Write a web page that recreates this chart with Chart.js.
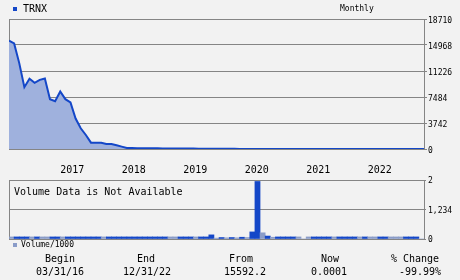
<!DOCTYPE html>
<html>
<head>
<meta charset="utf-8">
<script src="https://cdn.jsdelivr.net/npm/chart.js@4.4.0/dist/chart.umd.min.js"></script>
<style>
  body { margin: 0; width: 460px; height: 280px; background: #f2f2f2; position: relative; overflow: hidden;
         font-family: "DejaVu Sans Mono", monospace; color: #000; }
  canvas { position: absolute; left: 0; }
  .t { position: absolute; white-space: nowrap; line-height: 1; }
  .s10 { font-size: 10px; }
  .s8 { font-size: 8px; }
  .c { transform: translateX(-50%); }
  .sq { position: absolute; width: 4px; height: 4px; }
</style>
</head>
<body>
<canvas id="priceChart" width="460" height="180" style="top:0"></canvas>
<canvas id="volumeChart" width="460" height="80" style="top:170px"></canvas>

<div class="sq" style="left:13px;top:7px;background:#1447c8"></div>
<div class="t s10" style="left:23px;top:4px">TRNX</div>
<div class="t s8" style="left:340px;top:5px">Monthly</div>
<div class="t s10" style="left:14px;top:187px">Volume Data is Not Available</div>
<div class="sq" style="left:13px;top:243px;background:#8a9cc8"></div>
<div class="t s8" style="left:21px;top:241px">Volume/1000</div>

<div class="t s10 c" style="left:60px;top:254px">Begin</div>
<div class="t s10 c" style="left:146px;top:254px">End</div>
<div class="t s10 c" style="left:241px;top:254px">From</div>
<div class="t s10 c" style="left:330px;top:254px">Now</div>
<div class="t s10 c" style="left:415px;top:254px">% Change</div>
<div class="t s10 c" style="left:60px;top:267px">03/31/16</div>
<div class="t s10 c" style="left:147px;top:267px">12/31/22</div>
<div class="t s10 c" style="left:245px;top:267px">15592.2</div>
<div class="t s10 c" style="left:329px;top:267px">0.0001</div>
<div class="t s10 c" style="left:420px;top:267px">-99.99%</div>

<script>
// monthly closes, 03/2016 .. 12/2022 (index 0..81)
const priceValues = [
  15592.2, 15200, 12360, 8900, 10100, 9520, 9950, 10150, 7170, 6880,
  8270, 7170, 6690, 4380, 2980, 2020, 910, 910, 910, 720,
  720, 530, 340, 150, 130, 120, 110, 100, 95, 90,
  85, 80, 75, 70, 65, 60, 55, 50, 45, 40,
  35, 30, 25, 20, 18, 16, 14, 12, 10, 9,
  8, 7, 6, 5, 4, 3.5, 3, 2.5, 2, 1.5,
  1.2, 1, 0.8, 0.6, 0.5, 0.4, 0.3, 0.25, 0.2, 0.15,
  0.1, 0.08, 0.05, 0.03, 0.02, 0.01, 0.005, 0.002, 0.001, 0.0005,
  0.0002, 0.0001
];
// volume/1000 for each month interval (04/2016 .. 12/2022)
const volumeValues = [
  0.07, 0.07, 0.07, 0.07, 0.07, 0.07, 0.07, 0.07, 0.07, 0.07,
  0.07, 0.07, 0.07, 0.07, 0.07, 0.07, 0.07, 0.07, 0.07, 0.07,
  0.07, 0.07, 0.07, 0.07, 0.07, 0.07, 0.07, 0.07, 0.07, 0.07,
  0.07, 0.07, 0.07, 0.07, 0.07, 0.07, 0.07, 0.07, 0.07, 0.14,
  0.03, 0.05, 0.04, 0.05, 0.04, 0.06, 0.05, 0.24, 1.95, 0.21,
  0.1, 0.06, 0.07, 0.07, 0.07, 0.07, 0.07, 0, 0.07, 0.07,
  0.07, 0.07, 0.07, 0.07, 0.07, 0.07, 0.07, 0.07, 0.07, 0.07,
  0.07, 0.07, 0.07, 0.07, 0.07, 0.07, 0.07, 0.07, 0.07, 0.07,
  0
];
// 1 = dark bar, 0 = light bar
const volumeUp = [
  0, 1, 1, 1, 0, 1, 0, 0, 1, 1,
  0, 1, 1, 1, 1, 1, 1, 1, 0, 1,
  1, 1, 1, 1, 1, 1, 1, 1, 1, 1,
  1, 0, 0, 1, 1, 1, 0, 1, 1, 1,
  0, 1, 0, 1, 0, 1, 0, 1, 1, 0,
  1, 0, 1, 1, 1, 1, 0, 0, 0, 1,
  1, 1, 1, 0, 1, 1, 1, 1, 0, 1,
  0, 0, 1, 1, 0, 0, 0, 1, 1, 1,
  0
];
const yearTicks = [10, 22, 34, 46, 58, 70];
const yearLabels = ['2017', '2018', '2019', '2020', '2021', '2022'];
const priceTicks = [0, 3742, 7484, 11226, 14968, 18710];
const volumeTicks = [0, 1, 2];
const volumeTickLabels = ['0', '1,234', '2'];

const DARK = '#1447c8';
const LIGHT = '#8a9cc8';
const GRID = '#858585';
const MONO = '"DejaVu Sans Mono", monospace';

// left/top (and optionally bottom) edges of the plot box
function framePlugin(withBottom) {
  return {
    id: 'frame',
    beforeDatasetsDraw(chart) {
      const a = chart.chartArea;
      const ctx = chart.ctx;
      const l = Math.round(a.left) + 0.5, t = Math.round(a.top) + 0.5, b = Math.round(a.bottom) + 0.5;
      ctx.save();
      ctx.strokeStyle = GRID;
      ctx.lineWidth = 1;
      ctx.beginPath();
      ctx.moveTo(l, b); ctx.lineTo(l, t); ctx.lineTo(Math.round(a.right) + 0.5, t);
      if (withBottom) { ctx.moveTo(l, b); ctx.lineTo(Math.round(a.right) + 0.5, b); }
      ctx.stroke();
      ctx.restore();
    }
  };
}

loadPriceChart()
loadVolumeChart()

function loadPriceChart(){
  const data = {
    datasets: [{
      data: priceValues.map((v, i) => ({x: i, y: v})),
      borderColor: DARK,
      borderWidth: 2,
      backgroundColor: '#9fb1dd',
      fill: 'origin',
      pointRadius: 0,
      tension: 0
    }]
  };
  const config = {
    type: 'line',
    data: data,
    options: {
      responsive: false,
      animation: false,
      devicePixelRatio: 1,
      layout: { padding: { left: 9, top: 19, right: 0, bottom: 0 } },
      plugins: { legend: { display: false }, tooltip: { enabled: false } },
      scales: {
        x: {
          type: 'linear', min: 0, max: priceValues.length - 1,
          grid: { display: false },
          border: { display: true, color: GRID },
          ticks: {
            align: 'start', padding: 7, maxRotation: 0, autoSkip: false,
            color: '#000', font: { family: MONO, size: 10 },
            callback: (v) => yearLabels[yearTicks.indexOf(v)]
          },
          afterBuildTicks: (ax) => { ax.ticks = yearTicks.map(v => ({value: v})); },
          afterFit: (ax) => { ax.height = 31; }
        },
        y: {
          position: 'right', min: 0, max: 18710,
          grid: { color: GRID, tickLength: 3 },
          border: { display: true, color: GRID },
          ticks: {
            padding: 1, labelOffset: 2, color: '#000', font: { family: MONO, size: 8 },
            callback: (v) => String(v)
          },
          afterBuildTicks: (ax) => { ax.ticks = priceTicks.map(v => ({value: v})); },
          afterFit: (ax) => { ax.width = 36; }
        }
      }
    },
    plugins: [framePlugin(false)]
  };
  const priceChart = new Chart(document.getElementById('priceChart'), config);
}

function loadVolumeChart(){
  const data = {
    datasets: [{
      data: volumeValues.map((v, i) => ({x: i, y: v})),
      backgroundColor: volumeUp.map(u => u ? DARK : LIGHT),
      borderWidth: 0,
      barPercentage: 1,
      categoryPercentage: 1
    }]
  };
  const config = {
    type: 'bar',
    data: data,
    options: {
      responsive: false,
      animation: false,
      devicePixelRatio: 1,
      layout: { padding: { left: 9, top: 10, right: 0, bottom: 11 } },
      plugins: { legend: { display: false }, tooltip: { enabled: false } },
      scales: {
        x: { type: 'linear', min: -0.5, max: volumeValues.length - 0.5, display: false, offset: false },
        y: {
          position: 'right', min: 0, max: 2,
          grid: { color: GRID, tickLength: 2 },
          border: { display: true, color: GRID },
          ticks: {
            padding: 2, labelOffset: 1, color: '#000', font: { family: MONO, size: 8 },
            callback: (v) => volumeTickLabels[volumeTicks.indexOf(v)]
          },
          afterBuildTicks: (ax) => { ax.ticks = volumeTicks.map(v => ({value: v})); },
          afterFit: (ax) => { ax.width = 36; }
        }
      }
    },
    plugins: [framePlugin(true)]
  };
  const volumeChart = new Chart(document.getElementById('volumeChart'), config);
}
</script>
</body>
</html>
